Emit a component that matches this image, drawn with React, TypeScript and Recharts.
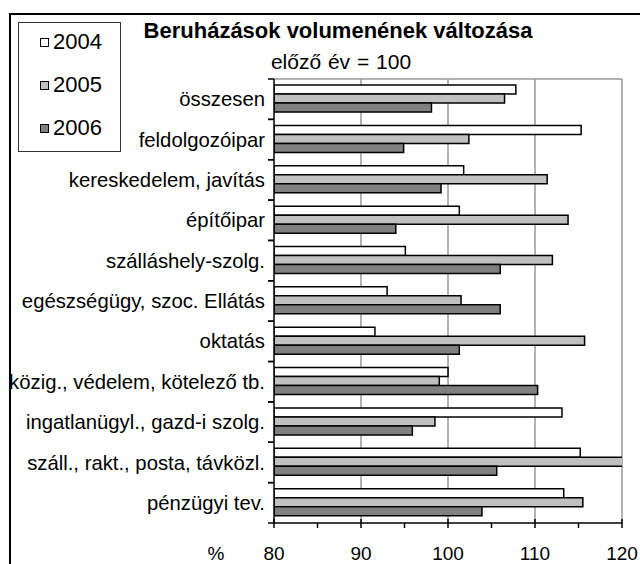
import { BarChart, Bar, XAxis, YAxis, CartesianGrid } from "recharts";

const categories = [
  "összesen",
  "feldolgozóipar",
  "kereskedelem, javítás",
  "építőipar",
  "szálláshely-szolg.",
  "egészségügy, szoc. Ellátás",
  "oktatás",
  "közig., védelem, kötelező tb.",
  "ingatlanügyl., gazd-i szolg.",
  "száll., rakt., posta, távközl.",
  "pénzügyi tev.",
];

const years = ["2004", "2005", "2006"];

const values2004 = [107.8, 115.3, 101.8, 101.3, 95.1, 93.0, 91.6, 100.0, 113.1, 115.2, 113.3];
const values2005 = [106.5, 102.4, 111.4, 113.8, 112.0, 101.5, 115.7, 99.0, 98.5, 122.5, 115.5];
const values2006 = [98.1, 94.9, 99.2, 94.0, 106.0, 106.0, 101.3, 110.3, 95.9, 105.6, 103.9];

const xTicks = [80, 85, 90, 95, 100, 105, 110, 115, 120];
const gridValues = [90, 100, 110, 120];

const fills = ["#ffffff", "#c0c0c0", "#808080"];
const keys = ["y2004", "y2005", "y2006"];

const data = categories.map((name, i) => ({
  name,
  y2004: values2004[i],
  y2005: values2005[i],
  y2006: values2006[i],
}));

const FONT = '"Liberation Sans", Arial, sans-serif';
const W = 632;
const H = 556;
const margin = { top: 71, right: 18, bottom: 0, left: 0 };
const Y_AXIS_W = 266;
const X_AXIS_H = 41;
const band = (H - margin.top - margin.bottom - X_AXIS_H) / categories.length;

function CategoryTick(props: any) {
  const { x, y, payload } = props;
  return (
    <g>
      <line x1={x - 6} x2={x} y1={y - band / 2} y2={y - band / 2} stroke="#000" strokeWidth={1.5} />
      <line x1={x - 6} x2={x} y1={y + band / 2} y2={y + band / 2} stroke="#000" strokeWidth={1.5} />
      <text x={x - 9} y={y} dy="0.35em" textAnchor="end" fontSize={20.3} fontFamily={FONT} fill="#000">
        {payload.value}
      </text>
    </g>
  );
}

function ValueTick(props: any) {
  const { x, y, payload } = props;
  const major = payload.value % 10 === 0;
  return (
    <g>
      <line x1={x} x2={x} y1={major ? y - 4 : y} y2={y + 5} stroke="#000" strokeWidth={1.5} />
      {major ? (
        <text x={x} y={y + 30} dy="0.35em" textAnchor="middle" fontSize={19} fontFamily={FONT} fill="#000">
          {payload.value}
        </text>
      ) : null}
      {payload.value === xTicks[0] ? (
        <text x={x - 58} y={y + 30} dy="0.35em" textAnchor="middle" fontSize={19} fontFamily={FONT} fill="#000">
          %
        </text>
      ) : null}
    </g>
  );
}

export default function App() {
  return (
    <div style={{ position: "relative", width: 640, height: 564, overflow: "hidden", background: "#fff" }}>
      <style>{"html,body{margin:0;overflow:hidden}"}</style>
      <div
        style={{
          position: "absolute",
          left: 8,
          top: 8,
          width: W,
          height: H,
          fontFamily: FONT,
        }}
      >
        <div
          style={{
            position: "absolute",
            left: 1,
            top: 5,
            right: -20,
            bottom: -20,
            borderLeft: "2px solid #000",
            borderTop: "2px solid #000",
          }}
        />
        <div
          style={{
            position: "absolute",
            left: 30,
            top: 10,
            width: 600,
            textAlign: "center",
            fontSize: 22,
            fontWeight: "bold",
            lineHeight: "26px",
          }}
        >
          Beruházások volumenének változása
        </div>
        <div
          style={{
            position: "absolute",
            left: 33,
            top: 41,
            width: 600,
            textAlign: "center",
            fontSize: 21,
            lineHeight: "26px",
            wordSpacing: 1,
          }}
        >
          előző év = 100
        </div>

        <div
          style={{
            position: "absolute",
            left: 10,
            top: 14,
            width: 101,
            height: 128,
            border: "1px solid #333",
            background: "#fff",
          }}
        >
          {years.map((yr, i) => (
            <div
              key={yr}
              style={{
                position: "absolute",
                left: 21,
                top: 19 + i * 43 - 12,
                height: 24,
                display: "flex",
                alignItems: "center",
              }}
            >
              <span
                style={{ width: 7, height: 7, border: "1.5px solid #000", background: fills[i], marginRight: 4 }}
              />
              <span style={{ fontSize: 22 }}>{yr}</span>
            </div>
          ))}
        </div>

        <div style={{ position: "absolute", left: 0, top: 0 }}>
          <BarChart
            width={W}
            height={H}
            data={data}
            layout="vertical"
            margin={margin}
            barCategoryGap="15%"
            barGap={0}
            style={{ overflow: "visible" }}
          >
            <CartesianGrid
              horizontal={true}
              vertical={true}
              horizontalPoints={[margin.top]}
              verticalValues={gridValues}
              stroke="#999"
              strokeWidth={1.5}
            />
            <XAxis
              type="number"
              domain={[80, 120]}
              allowDataOverflow
              ticks={xTicks}
              interval={0}
              tickSize={0}
              tickMargin={0}
              tickLine={false}
              tick={(p: any) => <ValueTick {...p} />}
              height={X_AXIS_H}
              axisLine={{ stroke: "#000", strokeWidth: 1.5 }}
            />
            <YAxis
              type="category"
              dataKey="name"
              width={Y_AXIS_W}
              interval={0}
              tickSize={0}
              tickMargin={0}
              tickLine={false}
              tick={(p: any) => <CategoryTick {...p} />}
              axisLine={{ stroke: "#000", strokeWidth: 1.5 }}
            />
            {keys.map((k, i) => (
              <Bar
                key={k}
                dataKey={k}
                name={years[i]}
                fill={fills[i]}
                stroke="#000"
                strokeWidth={1.5}
                isAnimationActive={false}
              />
            ))}
          </BarChart>
        </div>
      </div>
    </div>
  );
}
